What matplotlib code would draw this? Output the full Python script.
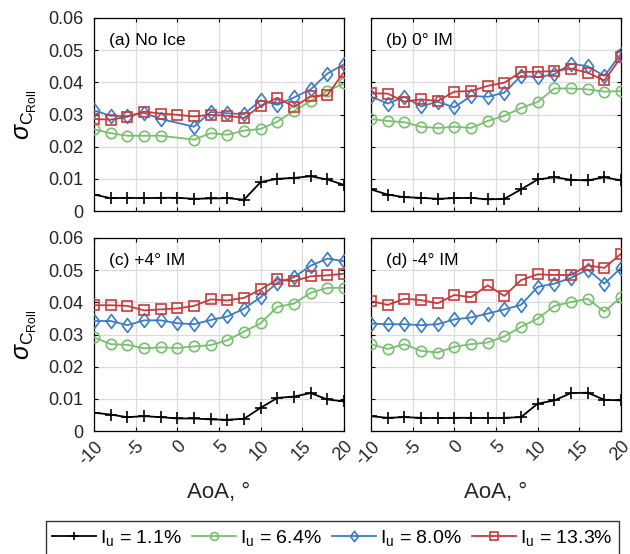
import matplotlib
matplotlib.use("Agg")
import matplotlib.pyplot as plt
from matplotlib.path import Path
import numpy as np

plt.rcParams['font.family'] = ['Liberation Sans', 'DejaVu Sans']
plt.rcParams['mathtext.fontset'] = 'custom'
plt.rcParams['mathtext.rm'] = 'Liberation Sans'
plt.rcParams['mathtext.it'] = 'Liberation Sans:italic'

aoa = [-10, -8, -6, -4, -2, 0, 2, 4, 6, 8, 10, 12, 14, 16, 18, 20]
aoa_no0 = [-10, -8, -6, -4, -2, 2, 4, 6, 8, 10, 12, 14, 16, 18, 20]

series_labels = ['1.1%', '6.4%', '8.0%', '13.3%']
panel_titles = ['(a) No Ice', '(b) 0\u00b0 IM', '(c) +4\u00b0 IM', '(d) -4\u00b0 IM']

# Panel (a) No Ice
a_iu11 = [0.0051, 0.0040, 0.0041, 0.0040, 0.0041, 0.0041, 0.0038, 0.0039, 0.0040, 0.0035, 0.0090, 0.0100, 0.0103, 0.0108, 0.0098, 0.0081]
a_iu64 = [0.0254, 0.0242, 0.0234, 0.0234, 0.0234, 0.0222, 0.0242, 0.0237, 0.0250, 0.0255, 0.0278, 0.0311, 0.0342, 0.0373, 0.0397]
a_iu80 = [0.0313, 0.0296, 0.0295, 0.0305, 0.0286, 0.0262, 0.0308, 0.0304, 0.0301, 0.0344, 0.0330, 0.0353, 0.0378, 0.0427, 0.0456]
a_iu133 = [0.0286, 0.0284, 0.0293, 0.0309, 0.0303, 0.0299, 0.0294, 0.0299, 0.0296, 0.0289, 0.0327, 0.0352, 0.0324, 0.0356, 0.0360, 0.0432]

# Panel (b) 0 deg IM
b_iu11 = [0.0067, 0.0051, 0.0043, 0.0041, 0.0038, 0.0040, 0.0041, 0.0036, 0.0038, 0.0067, 0.0098, 0.0105, 0.0097, 0.0095, 0.0105, 0.0095]
b_iu64 = [0.0286, 0.0280, 0.0276, 0.0262, 0.0258, 0.0262, 0.0258, 0.0280, 0.0296, 0.0320, 0.0339, 0.0381, 0.0381, 0.0378, 0.0371, 0.0373]
b_iu80 = [0.0356, 0.0334, 0.0355, 0.0325, 0.0340, 0.0322, 0.0358, 0.0355, 0.0368, 0.0420, 0.0416, 0.0425, 0.0458, 0.0450, 0.0420, 0.0489]
b_iu133 = [0.0366, 0.0365, 0.0340, 0.0347, 0.0342, 0.0371, 0.0373, 0.0389, 0.0399, 0.0432, 0.0433, 0.0435, 0.0443, 0.0430, 0.0406, 0.0478]

# Panel (c) +4 deg IM
c_iu11 = [0.0057, 0.0051, 0.0043, 0.0046, 0.0043, 0.0039, 0.0039, 0.0036, 0.0035, 0.0038, 0.0072, 0.0103, 0.0107, 0.0118, 0.0098, 0.0092]
c_iu64 = [0.0291, 0.0270, 0.0268, 0.0257, 0.0260, 0.0258, 0.0263, 0.0267, 0.0282, 0.0309, 0.0335, 0.0386, 0.0396, 0.0430, 0.0445, 0.0445]
c_iu80 = [0.0342, 0.0342, 0.0329, 0.0344, 0.0344, 0.0335, 0.0332, 0.0345, 0.0356, 0.0380, 0.0416, 0.0461, 0.0478, 0.0514, 0.0536, 0.0528]
c_iu133 = [0.0391, 0.0391, 0.0389, 0.0375, 0.0378, 0.0381, 0.0389, 0.0409, 0.0406, 0.0414, 0.0440, 0.0471, 0.0466, 0.0481, 0.0484, 0.0489]

# Panel (d) -4 deg IM
d_iu11 = [0.0046, 0.0041, 0.0043, 0.0041, 0.0040, 0.0041, 0.0041, 0.0040, 0.0041, 0.0043, 0.0085, 0.0095, 0.0118, 0.0119, 0.0097, 0.0095]
d_iu64 = [0.0270, 0.0255, 0.0270, 0.0249, 0.0244, 0.0262, 0.0270, 0.0275, 0.0294, 0.0324, 0.0349, 0.0389, 0.0401, 0.0411, 0.0371, 0.0416]
d_iu80 = [0.0334, 0.0332, 0.0332, 0.0329, 0.0332, 0.0347, 0.0353, 0.0365, 0.0378, 0.0392, 0.0448, 0.0458, 0.0476, 0.0502, 0.0458, 0.0507]
d_iu133 = [0.0404, 0.0392, 0.0411, 0.0407, 0.0397, 0.0423, 0.0416, 0.0453, 0.0420, 0.0469, 0.0487, 0.0485, 0.0485, 0.0515, 0.0507, 0.0551]

xticks = [-10, -5, 0, 5, 10, 15, 20]
yticks = [0, 0.01, 0.02, 0.03, 0.04, 0.05, 0.06]
ytick_labels = ['0', '0.01', '0.02', '0.03', '0.04', '0.05', '0.06']

diamond = Path([(0, 1), (0.75, 0), (0, -1), (-0.75, 0), (0, 1)],
               [Path.MOVETO, Path.LINETO, Path.LINETO, Path.LINETO, Path.CLOSEPOLY])

colors = ['#000000', '#78c070', '#3a7dc6', '#c83a3a']
markers = ['+', 'o', diamond, 's']
msizes = [8, 7.5, 10, 6.8]

panels = [
    (a_iu11, (aoa_no0, a_iu64), (aoa_no0, a_iu80), a_iu133),
    (b_iu11, b_iu64, b_iu80, b_iu133),
    (c_iu11, c_iu64, c_iu80, c_iu133),
    (d_iu11, d_iu64, d_iu80, d_iu133),
]

W, H = 630, 554
fig = plt.figure(figsize=(W / 100, H / 100), dpi=100)

lefts = [94, 371, 94, 371]
tops = [18, 18, 238, 238]
aw, ah = 250, 193

handles = []
for i, pdata in enumerate(panels):
    ax = fig.add_axes([lefts[i] / W, 1 - (tops[i] + ah) / H, aw / W, ah / H])
    for j, s in enumerate(pdata):
        if isinstance(s, tuple):
            xs, ys = s
        else:
            xs, ys = aoa, s
        ln, = ax.plot(xs, ys, color=colors[j], marker=markers[j], markersize=msizes[j],
                      markerfacecolor='none', markeredgewidth=1.2, linewidth=1.3, zorder=3 + j)
        if i == 0:
            handles.append(ln)
    ax.set_xlim(-10, 20)
    ax.set_ylim(0, 0.06)
    ax.set_xticks(xticks)
    ax.set_yticks(yticks)
    ax.grid(True, color='#dcdcdc', linewidth=0.9, zorder=0)
    ax.set_axisbelow(True)
    ax.tick_params(direction='in', length=3, width=0.8, labelsize=13, top=True, right=True,
                   labelcolor='#262626')
    ax.tick_params(axis='y', pad=7.5)
    ax.tick_params(axis='x', pad=5)
    for sp in ax.spines.values():
        sp.set_linewidth(0.9)
    if i in (0, 2):
        ax.set_yticklabels(ytick_labels)
        ax.set_ylabel(r'$\sigma_{\mathregular{C}_{\mathregular{Roll}}}$', fontsize=18)
        ax.yaxis.set_label_coords(-0.222, 0.5)
    else:
        ax.set_yticklabels([])
    if i in (2, 3):
        ax.set_xticklabels([str(t) for t in xticks], rotation=45, ha='right', va='top',
                           rotation_mode='anchor')
        ax.set_xlabel('AoA, \u00b0', fontsize=16, labelpad=10, color='#262626')
    else:
        ax.set_xticklabels([])
    ax.text(0.06, 0.92, panel_titles[i], transform=ax.transAxes, fontsize=12.5,
            ha='left', va='top')

fig.legend(handles, [r'$\mathregular{I_u}$ = ' + s for s in series_labels],
           loc='upper center', bbox_to_anchor=(332.5 / W, 1 - 521 / H), ncol=4,
           fontsize=14, frameon=True, fancybox=False, edgecolor='black',
           handlelength=2.25, columnspacing=0.55, handletextpad=0.2, borderpad=0.35,
           borderaxespad=0, markerscale=0.75)

fig.savefig('out.png', dpi=100)
